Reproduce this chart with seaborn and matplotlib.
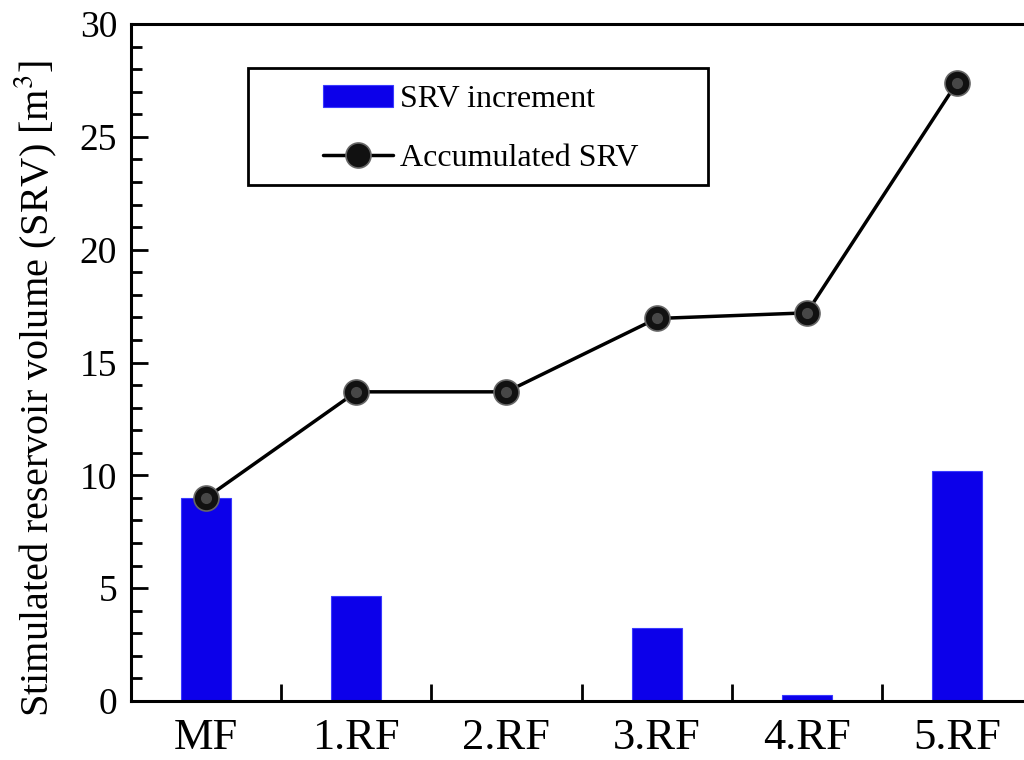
import matplotlib
matplotlib.use("Agg")
import matplotlib.pyplot as plt
import seaborn as sns
import pandas as pd
from matplotlib.patches import Rectangle
from matplotlib.ticker import MultipleLocator, FixedLocator

categories = ["MF", "1.RF", "2.RF", "3.RF", "4.RF", "5.RF"]
increment = [9.0, 4.65, 0.0, 3.25, 0.25, 10.2]
accumulated = [9.0, 13.7, 13.7, 16.95, 17.2, 27.4]

sns.set_style("ticks")
plt.rcParams['font.family'] = ['Liberation Serif', 'DejaVu Serif']
plt.rcParams['mathtext.fontset'] = 'stix'
for k in ["text.color", "axes.labelcolor", "xtick.color", "ytick.color", "axes.edgecolor"]:
    plt.rcParams[k] = "black"

df = pd.DataFrame({"cat": categories, "inc": increment, "acc": accumulated})

fig = plt.figure(figsize=(10.24, 7.6), dpi=100)
ax = fig.add_axes([131/1024, 1 - 701/760, (1032-131)/1024, (701-24)/760])

sns.barplot(data=df, x="cat", y="inc", color="#0c00ea", width=0.333,
            saturation=1, ax=ax, label="SRV increment", edgecolor="#3a3aff", linewidth=0.8)
line, = ax.plot(range(len(categories)), accumulated, color="black", lw=2.5,
                marker="o", markersize=18, markerfacecolor="#111111",
                markeredgecolor="#666666", markeredgewidth=1.2, label="Accumulated SRV", zorder=5)
ax.plot(range(len(categories)), accumulated, linestyle="none",
        marker="o", markersize=8, markerfacecolor="#8a8a8a", markeredgecolor="none",
        alpha=0.45, zorder=6)

ax.set_xlim(-0.5, 5.5)
ax.set_ylim(0, 30)
ax.yaxis.set_major_locator(MultipleLocator(5))
ax.yaxis.set_minor_locator(MultipleLocator(1))
ax.xaxis.set_minor_locator(FixedLocator([0.5, 1.5, 2.5, 3.5, 4.5]))
ax.tick_params(axis="y", which="major", direction="in", length=12, width=2, labelsize=27, pad=10)
ax.tick_params(axis="y", which="minor", direction="in", length=8, width=2)
ax.tick_params(axis="x", which="major", length=0, labelsize=32, pad=12)
ax.tick_params(axis="x", which="minor", direction="in", length=12, width=2)
ax.set_xlabel("")
ax.set_ylabel("Stimulated reservoir volume (SRV) [m$^3$]", fontsize=29, labelpad=14)
ax.yaxis.set_label_coords(-0.08, (701-388)/677)
for s in ["left", "top", "bottom"]:
    ax.spines[s].set_linewidth(2.2)
ax.spines["right"].set_visible(False)

# legend box
bx0, by0 = (248-131)/901, (701-185)/677
bw, bh = (708-248)/901, (185-68)/677
ax.add_patch(Rectangle((bx0, by0), bw, bh, transform=ax.transAxes, fill=False,
                       edgecolor="black", lw=2, zorder=10))
handles, labels = ax.get_legend_handles_labels()
order = [labels.index("SRV increment"), labels.index("Accumulated SRV")]
ax.legend([handles[i] for i in order], [labels[i] for i in order],
          loc="upper left", bbox_to_anchor=((323-131)/901, (701-85)/677),
          frameon=False, fontsize=23, handlelength=2.2, handletextpad=0.2,
          labelspacing=0.93, borderaxespad=0, borderpad=0)

fig.savefig("out.png", dpi=100)
